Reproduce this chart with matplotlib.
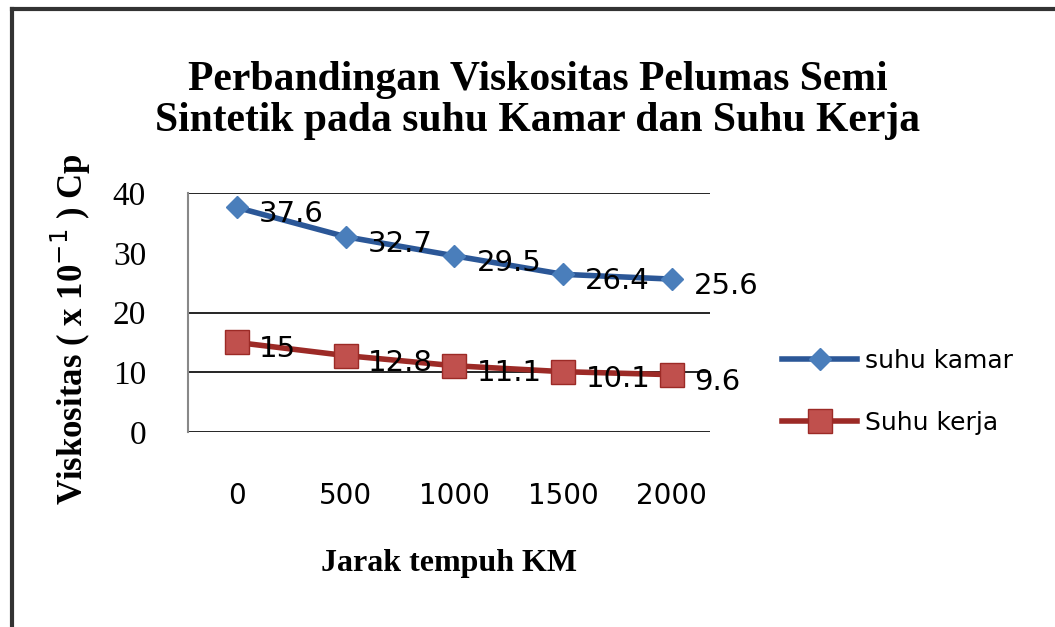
import matplotlib
matplotlib.use('Agg')
import matplotlib.pyplot as plt
from matplotlib.lines import Line2D

# data
jarak = ['0', '500', '1000', '1500', '2000']
suhu_kamar = [37.6, 32.7, 29.5, 26.4, 25.6]
suhu_kerja = [15, 12.8, 11.1, 10.1, 9.6]
y_ticks = [0, 10, 20, 30, 40]
grid_vals = [0, 10, 20, 40]

blue_line, blue_mark = '#2B5797', '#4A7EBB'
red_line, red_mark = '#9C2A26', '#C0504D'

fig = plt.figure(figsize=(10.55, 6.27), dpi=100)
ax = fig.add_axes([0.178, 0.311, 0.495, 0.381])

x = list(range(len(jarak)))

# gridlines (the 30 line is not visible in the original)
for g in grid_vals:
    ax.axhline(g, color='black', lw=1.2, zorder=1)

ax.plot(x, suhu_kamar, color=blue_line, lw=4, marker='D', ms=11,
        mfc=blue_mark, mec=blue_mark, zorder=3, label='suhu kamar')
ax.plot(x, suhu_kerja, color=red_line, lw=4, marker='s', ms=17,
        mfc=red_mark, mec=red_line, zorder=3, label='Suhu kerja')

for xi, v in zip(x, suhu_kamar):
    ax.annotate(f'{v:g}', (xi, v), xytext=(16, -5), textcoords='offset points',
                fontsize=21, va='center', ha='left', family='DejaVu Sans', zorder=4)
for xi, v in zip(x, suhu_kerja):
    ax.annotate(f'{v:g}', (xi, v), xytext=(16, -5), textcoords='offset points',
                fontsize=21, va='center', ha='left', family='DejaVu Sans', zorder=4)

ax.set_xlim(-0.45, 4.35)
ax.set_ylim(0, 40)
ax.set_xticks(x)
ax.set_xticklabels(jarak, family='DejaVu Sans', fontsize=20)
ax.set_yticks(y_ticks)
ax.set_yticklabels([str(t) for t in y_ticks], family='Liberation Serif', fontsize=24)
ax.tick_params(axis='x', length=0, pad=36)
ax.tick_params(axis='y', length=0, pad=30)

for s in ['top', 'right', 'bottom']:
    ax.spines[s].set_visible(False)
ax.spines['left'].set_color('#888888')
ax.spines['left'].set_linewidth(1.5)

ax.set_xlabel('Jarak tempuh KM', family='Liberation Serif', fontweight='bold',
              fontsize=23, labelpad=28)
fig.text(0.067, 0.475, 'Viskositas ( x 10$^{-1}$ ) Cp', rotation=90,
         family='Liberation Serif', fontweight='bold', fontsize=25,
         ha='center', va='center')

fig.text(0.51, 0.84, 'Perbandingan Viskositas Pelumas Semi\nSintetik pada suhu Kamar dan Suhu Kerja',
         family='Liberation Serif', fontweight='bold', fontsize=30,
         ha='center', va='center', linespacing=1.1)

handles = [
    Line2D([], [], color=blue_line, lw=4, marker='D', ms=11, mfc=blue_mark, mec=blue_mark),
    Line2D([], [], color=red_line, lw=4, marker='s', ms=17, mfc=red_mark, mec=red_line),
]
fig.legend(handles, ['suhu kamar', 'Suhu kerja'], loc='center left',
           bbox_to_anchor=(0.72, 0.375), frameon=False, fontsize=18,
           handlelength=3, labelspacing=1.5, handletextpad=0.3)

# chart border (left and top edges)
fig.add_artist(Line2D([0.011, 0.011], [0, 0.985], transform=fig.transFigure,
                      color='#333333', lw=3))
fig.add_artist(Line2D([0.011, 1], [0.985, 0.985], transform=fig.transFigure,
                      color='#333333', lw=3))

fig.savefig('out.png', dpi=100)
